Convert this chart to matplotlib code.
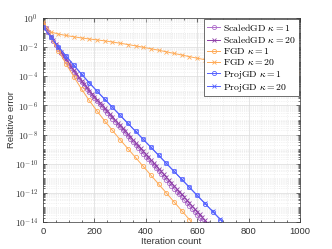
import numpy as np
import matplotlib
matplotlib.use("Agg")
from matplotlib import pyplot as plt
from matplotlib.ticker import LogLocator, MultipleLocator, NullFormatter, FuncFormatter

plt.rcParams['mathtext.fontset'] = 'cm'
plt.rcParams['font.family'] = ['Liberation Sans', 'DejaVu Sans']

# iterations and -log10(relative error)
iter_scaled = list(range(0, 640, 10))
scaled_k1 = [0.40, 0.70, 0.99, 1.28, 1.56, 1.84, 2.12, 2.40, 2.67, 2.94,
             3.20, 3.46, 3.71, 3.95, 4.19, 4.42, 4.65, 4.87, 5.09, 5.30,
             5.51, 5.71, 5.91, 6.11, 6.31, 6.51, 6.71, 6.91, 7.11, 7.31,
             7.51, 7.71, 7.91, 8.11, 8.31, 8.51, 8.71, 8.91, 9.11, 9.31,
             9.51, 9.71, 9.91, 10.11, 10.31, 10.51, 10.71, 10.91, 11.11, 11.31,
             11.51, 11.71, 11.91, 12.11, 12.31, 12.51, 12.71, 12.91, 13.11, 13.31,
             13.51, 13.71, 13.91, 14.11]
iter_scaled20 = list(range(0, 650, 10))
scaled_k20 = [0.40, 0.68, 0.96, 1.24, 1.51, 1.78, 2.05, 2.32, 2.58, 2.84,
              3.10, 3.35, 3.60, 3.84, 4.08, 4.31, 4.54, 4.76, 4.98, 5.19,
              5.40, 5.60, 5.80, 5.99, 6.19, 6.39, 6.58, 6.78, 6.98, 7.18,
              7.37, 7.57, 7.77, 7.96, 8.16, 8.36, 8.56, 8.75, 8.95, 9.15,
              9.34, 9.54, 9.74, 9.94, 10.13, 10.33, 10.53, 10.72, 10.92, 11.12,
              11.32, 11.51, 11.71, 11.91, 12.10, 12.30, 12.50, 12.70, 12.89, 13.09,
              13.29, 13.48, 13.68, 13.88, 14.08]

iter_fgd1 = list(range(0, 630, 30))
fgd_k1 = [0.40, 1.33, 2.25, 3.15, 4.03, 4.88, 5.66, 6.38, 7.06, 7.71,
          8.35, 8.96, 9.57, 10.18, 10.79, 11.40, 12.01, 12.62, 13.23, 13.84, 14.45]

iter_fgd20 = list(range(0, 1000, 30)) + [1000]
fgd_k20 = [0.30, 0.96, 1.10, 1.20, 1.29, 1.37, 1.44, 1.50, 1.57, 1.65,
           1.73, 1.82, 1.91, 2.01, 2.11, 2.21, 2.32, 2.43, 2.54, 2.65,
           2.76, 2.86, 2.95, 3.04, 3.12, 3.20, 3.27, 3.34, 3.41, 3.48,
           3.55, 3.61, 3.67, 3.73, 3.75]

iter_proj = list(range(0, 750, 30))
proj_k1 = [0.60, 1.30, 1.97, 2.62, 3.25, 3.86, 4.45, 5.02, 5.58, 6.13,
           6.68, 7.23, 7.78, 8.33, 8.88, 9.43, 9.98, 10.53, 11.08, 11.63,
           12.18, 12.73, 13.28, 13.83, 14.38]
proj_k20 = [0.60, 1.29, 1.96, 2.61, 3.24, 3.85, 4.44, 5.01, 5.57, 6.12,
            6.67, 7.22, 7.77, 8.32, 8.87, 9.42, 9.97, 10.52, 11.07, 11.62,
            12.17, 12.72, 13.27, 13.82, 14.37]

purple1 = '#B070CC'
purple2 = '#8E3FA8'
orange = '#FFAA55'
blue = '#5562FF'


def err(v):
    return 10.0 ** (-np.array(v))


fig = plt.figure(figsize=(3.32, 2.49), dpi=100)
ax = fig.add_axes([0.1295, 0.1084, 0.7741, 0.8193])

lw = 0.7
ax.plot(iter_scaled, err(scaled_k1), '-o', color=purple1, lw=lw, ms=3.0, mfc='none', mew=0.6,
        label=r'$\mathrm{ScaledGD}\ \kappa = 1$')
ax.plot(iter_scaled20, err(scaled_k20), '-x', color=purple2, lw=lw, ms=2.6, mew=0.6,
        label=r'$\mathrm{ScaledGD}\ \kappa = 20$')
ax.plot(iter_fgd1, err(fgd_k1), '-o', color=orange, lw=lw, ms=3.0, mfc='none', mew=0.6,
        label=r'$\mathrm{FGD}\ \kappa = 1$')
ax.plot(iter_fgd20, err(fgd_k20), '-x', color=orange, lw=lw, ms=2.6, mew=0.6,
        markevery=slice(0, len(iter_fgd20) - 1), label=r'$\mathrm{FGD}\ \kappa = 20$')
ax.plot(iter_proj, err(proj_k1), '-o', color=blue, lw=lw, ms=3.0, mfc='none', mew=0.6,
        label=r'$\mathrm{ProjGD}\ \kappa = 1$')
ax.plot(iter_proj, err(proj_k20), '-x', color=blue, lw=lw, ms=2.6, mew=0.6,
        label=r'$\mathrm{ProjGD}\ \kappa = 20$')

ax.set_yscale('log')
ax.set_xlim(0, 1000)
ax.set_ylim(1e-14, 1)
ax.set_yticks([10.0 ** -k for k in range(0, 15, 2)])
ax.yaxis.set_major_formatter(FuncFormatter(lambda v, p: r'$\mathsf{10^{%d}}$' % round(np.log10(v))))
ax.yaxis.set_minor_locator(LogLocator(base=10, subs=np.arange(1, 10), numticks=40))
ax.yaxis.set_minor_formatter(NullFormatter())
ax.xaxis.set_major_locator(MultipleLocator(200))
ax.xaxis.set_minor_locator(MultipleLocator(50))

ax.grid(True, which='major', color='#DADADA', lw=0.5, ls='-')
ax.grid(True, which='minor', color='#E6E6E6', lw=0.5, ls=':')
ax.set_axisbelow(True)
ax.tick_params(which='both', direction='in', top=True, right=True, labelsize=6.8,
               colors='#333333', width=0.5)
ax.tick_params(which='major', length=3)
ax.tick_params(which='minor', length=1.5)
for s in ax.spines.values():
    s.set_color('#333333')
    s.set_linewidth(0.5)

ax.set_xlabel('Iteration count', fontsize=6.8, color='#333333', labelpad=1)
ax.set_ylabel('Relative error', fontsize=6.8, color='#333333')
ax.yaxis.set_label_coords(-0.105, 0.5)

leg = ax.legend(loc='upper right', fontsize=7, handlelength=1.4, handletextpad=0.3,
                borderpad=0.25, labelspacing=0.12, borderaxespad=0.15, fancybox=False,
                framealpha=1, edgecolor='#333333')
leg.get_frame().set_linewidth(0.5)

fig.savefig('out.png', dpi=100)
